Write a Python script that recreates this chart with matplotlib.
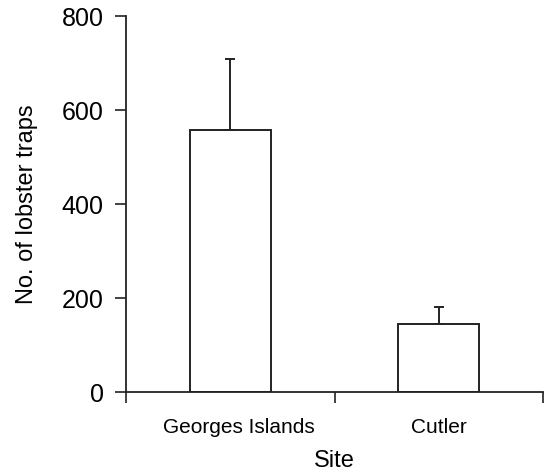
import matplotlib
matplotlib.use("Agg")
import matplotlib.pyplot as plt
from matplotlib.ticker import FixedLocator
from matplotlib.transforms import ScaledTranslation

# data
sites = ["Georges Islands", "Cutler"]
traps = [557, 145]
traps_err = [151, 36]
yticks = [0, 200, 400, 600, 800]

plt.rcParams['font.family'] = ['Liberation Sans', 'DejaVu Sans']

fig = plt.figure(figsize=(5.53, 4.75), dpi=100)
ax = fig.add_axes([126/553, 1-392/475, (543-126)/553, (392-16)/475])

x = list(range(len(sites)))
ax.bar(x, traps, width=0.39, color="white", edgecolor="#222222", linewidth=1.4,
       zorder=2)
# only the upper half of the error bar is drawn
ax.errorbar(x, traps, yerr=[[0]*len(traps), traps_err], fmt="none",
            ecolor="#222222", elinewidth=1.4, capsize=3.6, capthick=1.4, zorder=1)

ax.set_xlim(-0.5, len(sites) - 0.5)
ax.set_ylim(0, 800)
ax.set_yticks(yticks)
ax.set_xticks(x)
ax.set_xticklabels(sites, fontsize=15)
ax.xaxis.set_minor_locator(FixedLocator([i - 0.5 for i in range(len(sites) + 1)]))
ax.tick_params(axis="x", which="major", length=0, pad=19)
ax.tick_params(axis="x", which="minor", length=8, width=1.2, color="#222222")
ax.tick_params(axis="y", length=8, width=1.2, color="#222222", pad=8, labelsize=18)

# in the original the first label sits a bit right of its bar
lab = ax.get_xticklabels()[0]
lab.set_transform(lab.get_transform() + ScaledTranslation(9/100, 0, fig.dpi_scale_trans))

ax.spines["top"].set_visible(False)
ax.spines["right"].set_visible(False)
for s in ["left", "bottom"]:
    ax.spines[s].set_linewidth(1.3)
    ax.spines[s].set_color("#222222")

ax.set_xlabel("Site", fontsize=17, labelpad=9)
ax.set_ylabel("No. of lobster traps", fontsize=17, labelpad=17)

fig.savefig("out.png", dpi=100)
